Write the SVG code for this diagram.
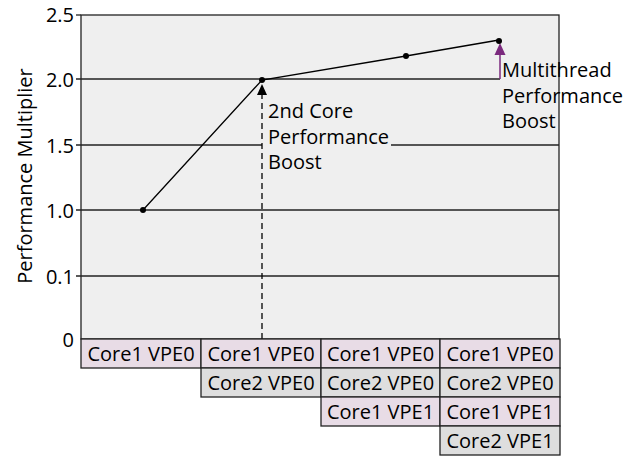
<svg xmlns="http://www.w3.org/2000/svg" width="631" height="458" viewBox="0 0 631 458">
<defs>
<style>
text{font-family:"Open Sans","Noto Sans",sans-serif;fill:#000}
.ax{font-size:20px}
.lbl{font-size:20px}
.cell{font-size:20px}
.grid{stroke:#222;stroke-width:1.3;fill:none}
.pink{fill:#e8dce6;stroke:#222;stroke-width:1.3}
.gray{fill:#dedede;stroke:#222;stroke-width:1.3}
</style>
</defs>
<rect width="631" height="458" fill="#fff"/>
<g id="plot">
<rect x="81" y="15" width="478" height="324" fill="#efefef" stroke="#222" stroke-width="1.3"/>
<line class="grid" x1="76" y1="15" x2="81" y2="15"/>
<line class="grid" x1="76" y1="79" x2="500" y2="79"/>
<line class="grid" x1="76" y1="145" x2="262" y2="145"/>
<line class="grid" x1="391" y1="145" x2="559" y2="145"/>
<line class="grid" x1="76" y1="210" x2="559" y2="210"/>
<line class="grid" x1="76" y1="276" x2="559" y2="276"/>
</g>
<g id="axis-labels">
<text class="ax" x="74" y="22" text-anchor="end">2.5</text>
<text class="ax" x="74" y="87" text-anchor="end">2.0</text>
<text class="ax" x="74" y="153" text-anchor="end">1.5</text>
<text class="ax" x="74" y="218" text-anchor="end">1.0</text>
<text class="ax" x="74" y="284" text-anchor="end">0.1</text>
<text class="ax" x="74" y="347" text-anchor="end">0</text>
<text class="lbl" transform="translate(32,176) rotate(-90)" text-anchor="middle">Performance Multiplier</text>
</g>
<g id="connectors">
<polyline points="143,210 262,80 406,56 499,40" fill="none" stroke="#000" stroke-width="1.3"/>
<line x1="262" y1="339" x2="262" y2="95" stroke="#000" stroke-width="1.3" stroke-dasharray="6,4"/>
<path d="M262,84 L267,95 L257,95 z" fill="#000"/>
<line x1="500" y1="79" x2="500" y2="54" stroke="#7b2a7e" stroke-width="1.5"/>
<path d="M500,43 L505.5,55 L494.5,55 z" fill="#7b2a7e"/>
</g>
<g id="points" fill="#000">
<circle cx="143" cy="210" r="3"/>
<circle cx="262" cy="80" r="3"/>
<circle cx="406" cy="56" r="3"/>
<circle cx="499" cy="41" r="3"/>
</g>
<g id="label-2nd-core">
<text class="lbl" x="268" y="118">2nd Core</text>
<text class="lbl" x="268" y="143.5">Performance</text>
<text class="lbl" x="268" y="169">Boost</text>
</g>
<g id="label-multithread">
<text class="lbl" x="502" y="77">Multithread</text>
<text class="lbl" x="502" y="102.5">Performance</text>
<text class="lbl" x="502" y="128">Boost</text>
</g>
<g id="table">
<rect class="pink" x="81" y="339" width="120" height="29"/>
<rect class="pink" x="201" y="339" width="120" height="29"/>
<rect class="pink" x="321" y="339" width="119" height="29"/>
<rect class="pink" x="440" y="339" width="120" height="29"/>
<rect class="gray" x="201" y="368" width="120" height="29"/>
<rect class="gray" x="321" y="368" width="119" height="29"/>
<rect class="gray" x="440" y="368" width="120" height="29"/>
<rect class="pink" x="321" y="397" width="119" height="29"/>
<rect class="pink" x="440" y="397" width="120" height="29"/>
<rect class="gray" x="440" y="426" width="120" height="29"/>
<text class="cell" x="141" y="361" text-anchor="middle">Core1 VPE0</text>
<text class="cell" x="261" y="361" text-anchor="middle">Core1 VPE0</text>
<text class="cell" x="380.5" y="361" text-anchor="middle">Core1 VPE0</text>
<text class="cell" x="500" y="361" text-anchor="middle">Core1 VPE0</text>
<text class="cell" x="261" y="390" text-anchor="middle">Core2 VPE0</text>
<text class="cell" x="380.5" y="390" text-anchor="middle">Core2 VPE0</text>
<text class="cell" x="500" y="390" text-anchor="middle">Core2 VPE0</text>
<text class="cell" x="380.5" y="419" text-anchor="middle">Core1 VPE1</text>
<text class="cell" x="500" y="419" text-anchor="middle">Core1 VPE1</text>
<text class="cell" x="500" y="448" text-anchor="middle">Core2 VPE1</text>
</g>
</svg>
